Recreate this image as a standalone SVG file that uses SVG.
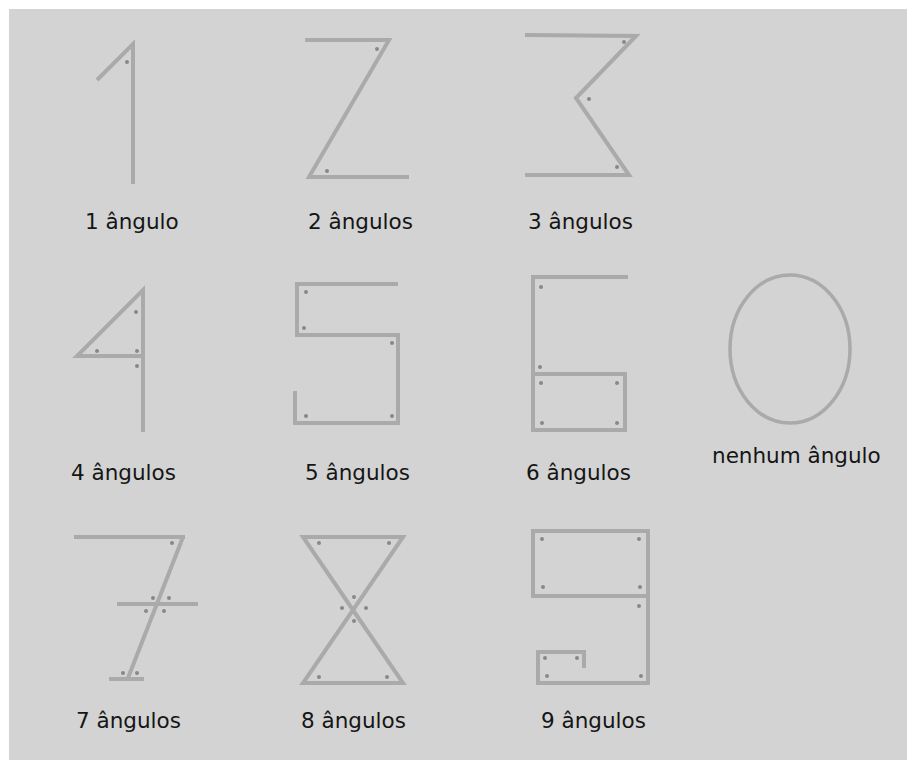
<svg xmlns="http://www.w3.org/2000/svg" width="907" height="760" viewBox="0 0 907 760">
<style>
.s{fill:none;stroke:#aaaaaa;stroke-width:4;stroke-linejoin:miter;stroke-linecap:butt}
.d{fill:#888888}
.t{font-family:"DejaVu Sans",Verdana,sans-serif;font-size:21.5px;fill:#151515}
</style>
<rect x="0" y="0" width="907" height="760" fill="#ffffff"/>
<rect x="9" y="9" width="898" height="751" fill="#d3d3d3"/>
<g id="n1">
<polyline class="s" points="97,80 133,44 133,184"/>
<circle class="d" cx="127" cy="62" r="2"/>
<text class="t" x="85" y="229">1 ângulo</text>
</g>
<g id="n2">
<polyline class="s" points="305,40 389,40 309,177 409,177"/>
<circle class="d" cx="377" cy="49" r="2"/>
<circle class="d" cx="327" cy="171" r="2"/>
<text class="t" x="308" y="229">2 ângulos</text>
</g>
<g id="n3">
<polyline class="s" points="525,35 636,36 576,98 629,175 525,175"/>
<circle class="d" cx="624" cy="42" r="2"/>
<circle class="d" cx="589" cy="99" r="2"/>
<circle class="d" cx="617" cy="167" r="2"/>
<text class="t" x="528" y="229">3 ângulos</text>
</g>
<g id="n4">
<polyline class="s" points="143,432 143,290 77,356 143,356"/>
<circle class="d" cx="136" cy="312" r="2"/>
<circle class="d" cx="97" cy="351" r="2"/>
<circle class="d" cx="137" cy="351" r="2"/>
<circle class="d" cx="137" cy="366" r="2"/>
<text class="t" x="71" y="480">4 ângulos</text>
</g>
<g id="n5">
<polyline class="s" points="398,284 297,284 297,335 398,335 398,423 295,423 295,391"/>
<circle class="d" cx="306" cy="292" r="2"/>
<circle class="d" cx="304" cy="328" r="2"/>
<circle class="d" cx="392" cy="343" r="2"/>
<circle class="d" cx="306" cy="416" r="2"/>
<circle class="d" cx="392" cy="416" r="2"/>
<text class="t" x="305" y="480">5 ângulos</text>
</g>
<g id="n6">
<polyline class="s" points="628,277 533,277 533,430 625,430 625,374 533,374"/>
<circle class="d" cx="541" cy="287" r="2"/>
<circle class="d" cx="540" cy="367" r="2"/>
<circle class="d" cx="541" cy="383" r="2"/>
<circle class="d" cx="617" cy="383" r="2"/>
<circle class="d" cx="542" cy="423" r="2"/>
<circle class="d" cx="617" cy="423" r="2"/>
<text class="t" x="526" y="480">6 ângulos</text>
</g>
<g id="n0">
<ellipse class="s" cx="790" cy="349" rx="60" ry="74" style="stroke-width:3.5"/>
<text class="t" x="712" y="463">nenhum ângulo</text>
</g>
<g id="n7">
<line class="s" x1="74" y1="537" x2="185" y2="537"/>
<line class="s" x1="183" y1="537" x2="128" y2="678"/>
<line class="s" x1="117" y1="604" x2="198" y2="604"/>
<line class="s" x1="109" y1="679" x2="144" y2="679"/>
<circle class="d" cx="172" cy="543" r="2"/>
<circle class="d" cx="153" cy="598" r="2"/>
<circle class="d" cx="169" cy="598" r="2"/>
<circle class="d" cx="146" cy="611" r="2"/>
<circle class="d" cx="164" cy="611" r="2"/>
<circle class="d" cx="123" cy="673" r="2"/>
<circle class="d" cx="137" cy="673" r="2"/>
<text class="t" x="76" y="728">7 ângulos</text>
</g>
<g id="n8">
<polygon class="s" points="303,537 403,537 303,683 403,683"/>
<circle class="d" cx="319" cy="543" r="2"/>
<circle class="d" cx="389" cy="543" r="2"/>
<circle class="d" cx="354" cy="597" r="2"/>
<circle class="d" cx="342" cy="608" r="2"/>
<circle class="d" cx="366" cy="608" r="2"/>
<circle class="d" cx="354" cy="621" r="2"/>
<circle class="d" cx="319" cy="677" r="2"/>
<circle class="d" cx="387" cy="677" r="2"/>
<text class="t" x="301" y="728">8 ângulos</text>
</g>
<g id="n9">
<polyline class="s" points="648,596 533,596 533,531 648,531 648,683 538,683 538,652 584,652 584,668"/>
<circle class="d" cx="542" cy="539" r="2"/>
<circle class="d" cx="639" cy="539" r="2"/>
<circle class="d" cx="543" cy="587" r="2"/>
<circle class="d" cx="640" cy="587" r="2"/>
<circle class="d" cx="639" cy="606" r="2"/>
<circle class="d" cx="545" cy="658" r="2"/>
<circle class="d" cx="577" cy="658" r="2"/>
<circle class="d" cx="547" cy="676" r="2"/>
<circle class="d" cx="641" cy="676" r="2"/>
<text class="t" x="541" y="728">9 ângulos</text>
</g>
<g id="connectors"/>
</svg>
